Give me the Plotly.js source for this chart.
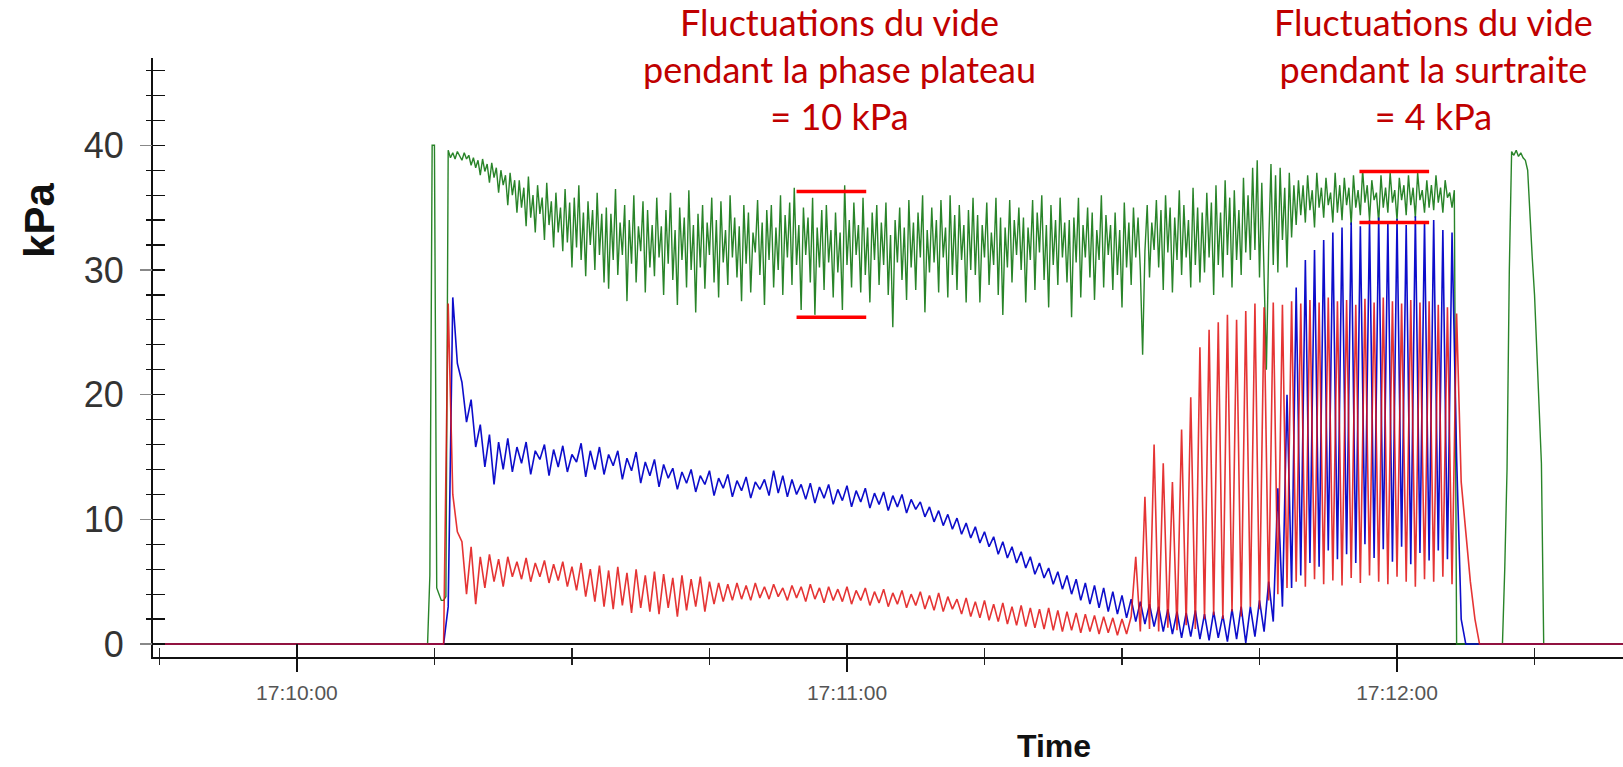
<!DOCTYPE html>
<html>
<head>
<meta charset="utf-8">
<script src="https://cdn.plot.ly/plotly-3.0.1.min.js"></script>
<style>html,body{margin:0;padding:0;background:#fff;}#chart{width:1623px;height:767px;}</style>
</head>
<body>
<div id="chart"></div>
<script>
// Time in seconds after 17:10:00. Recording window and sampling of the active part.
const recordStart = -16;
const recordEnd = 145;
const firstSample = 14.0;
const greenStep = 0.25;
const pulseStep = 0.5;

const timeTickSeconds = [0, 60, 120];
const timeTickLabels = ['17:10:00', '17:11:00', '17:12:00'];

// Green trace (kPa), one row = 5 s (20 samples), row start time in comment
const greenValues = [
/*14*/ 0, 0, 5.5, 40, 40, 4.5, 4, 3.5, 3.5, 3.8, 39.6, 39.0, 39.4, 38.9, 39.5, 39.1, 38.8, 39.4, 38.9, 39.2,
/*19*/ 38.4, 39.0, 38.2, 38.8, 37.6, 38.9, 37.9, 38.5, 37.0, 38.6, 37.4, 38.2, 36.2, 38.0, 36.8, 37.6, 35.2, 37.8, 36.0, 37.2,
/*24*/ 34.6, 37.2, 35.0, 36.6, 33.5, 37.5, 34.2, 36.0, 33.0, 36.8, 34.5, 35.8, 32.4, 37.0, 33.6, 35.5, 31.8, 36.2, 33.0, 35.0,
/*29*/ 31.5, 36.5, 32.2, 35.4, 30.2, 35.8, 31.8, 36.8, 30.8, 34.6, 29.5, 35.5, 32.0, 34.8, 30.0, 36.2, 31.2, 34.5, 29.0, 35.0,
/*34*/ 28.5, 34.5, 30.8, 36.5, 29.6, 33.8, 31.2, 35.2, 27.5, 34.0, 30.5, 36.0, 29.0, 33.5, 31.5, 35.5, 28.2, 34.8, 30.2, 33.6,
/*39*/ 29.5, 35.8, 31.0, 33.5, 28.0, 34.8, 30.5, 36.2, 29.2, 33.2, 27.2, 35.0, 30.8, 34.2, 28.6, 36.4, 30.0, 33.6, 26.6, 34.5,
/*44*/ 30.2, 35.2, 28.5, 33.8, 31.2, 35.8, 29.0, 34.0, 27.8, 35.5, 30.6, 33.2, 28.8, 36.0, 31.0, 34.2, 29.4, 33.5, 27.5, 35.2,
/*49*/ 30.5, 34.6, 28.2, 33.0, 31.4, 35.6, 29.6, 33.8, 27.2, 34.8, 30.8, 35.2, 28.6, 33.4, 30.0, 36.0, 28.0, 34.4, 31.0, 35.4,
/*54*/ 28.8, 36.6, 30.4, 33.6, 26.8, 35.0, 31.2, 34.2, 29.0, 35.8, 26.4, 33.4, 30.2, 34.8, 28.4, 35.2, 30.6, 33.2, 27.8, 34.6,
/*59*/ 29.8, 33.0, 26.8, 36.8, 30.4, 34.0, 28.6, 35.4, 31.2, 33.6, 28.2, 35.8, 29.6, 33.4, 27.4, 34.6, 30.8, 35.2, 28.8, 33.8,
/*64*/ 30.4, 35.4, 28.0, 32.8, 25.4, 34.0, 30.6, 35.0, 29.2, 33.4, 27.6, 35.6, 30.2, 33.8, 28.4, 34.6, 31.0, 36.0, 26.6, 33.2,
/*69*/ 29.8, 35.0, 30.6, 34.0, 28.2, 35.6, 31.0, 33.4, 27.8, 36.0, 29.6, 34.4, 28.4, 35.2, 30.8, 33.6, 27.4, 34.8, 30.0, 35.8,
/*74*/ 29.6, 34.4, 27.4, 33.6, 31.0, 35.4, 28.8, 33.0, 30.4, 35.8, 28.0, 34.2, 26.4, 33.4, 30.2, 35.6, 29.0, 34.0, 31.2, 35.0,
/*79*/ 30.0, 34.2, 27.4, 33.4, 30.8, 35.6, 28.4, 34.6, 31.4, 36.0, 29.2, 33.6, 27.0, 35.2, 30.4, 34.0, 28.8, 35.8, 31.0, 33.8,
/*84*/ 29.0, 34.0, 26.2, 34.2, 30.6, 35.8, 27.8, 33.6, 31.0, 35.0, 29.4, 34.6, 27.6, 33.2, 30.8, 36.0, 28.6, 34.4, 31.2, 33.6,
/*89*/ 28.4, 34.6, 29.6, 33.2, 27.0, 35.4, 30.2, 33.8, 28.8, 35.0, 31.0, 34.2, 30.0, 23.2, 31.5, 35.2, 29.4, 33.8, 31.6, 35.6,
/*94*/ 30.2, 34.8, 28.4, 36.0, 31.4, 35.0, 28.2, 34.2, 30.8, 36.4, 29.6, 35.2, 31.0, 34.0, 28.6, 36.6, 30.4, 35.0, 29.0, 34.6,
/*99*/ 29.8, 36.2, 31.0, 35.4, 28.0, 36.8, 30.4, 34.6, 29.4, 37.2, 31.2, 35.8, 28.6, 36.4, 30.8, 34.8, 29.6, 37.4, 31.4, 36.0,
/*104*/ 30.8, 38.2, 31.6, 38.8, 29.4, 37.0, 30.4, 22.0, 32.0, 38.5, 30.4, 37.6, 29.8, 38.2, 32.4, 36.6, 30.2, 37.8, 32.6, 36.8,
/*109*/ 33.6, 37.2, 34.4, 36.8, 33.8, 37.6, 34.8, 36.4, 33.4, 37.8, 35.0, 36.6, 34.2, 37.4, 35.2, 36.2, 33.8, 37.8, 34.6, 36.8,
/*114*/ 34.0, 37.4, 35.2, 36.6, 33.6, 37.6, 35.0, 36.4, 34.4, 38.0, 35.4, 36.8, 34.0, 37.2, 35.6, 36.2, 33.8, 37.6, 35.0, 36.6,
/*119*/ 34.6, 37.8, 35.4, 36.4, 34.0, 37.4, 35.6, 36.8, 34.4, 37.6, 35.2, 36.6, 34.2, 37.8, 35.6, 36.4, 34.6, 37.2, 35.0, 36.8,
/*124*/ 34.8, 37.6, 35.4, 36.6, 34.6, 37.2, 35.8, 36.2, 35.0, 36.4, 0, 0, 0, 0, 0, 0, 0, 0, 0, 0,
/*129*/ 0, 0, 0, 0, 0, 0, 0, 0, 0, 0, 0, 6.0, 14, 30, 39.5, 39.2, 39.6, 39.1, 39.4, 39.0,
/*134*/ 38.8, 38.0, 34.0, 31.0, 28.0, 23.5, 19.0, 14.5, 0, 0, 0, 0, 0
];

// Blue trace (kPa), one row = 5 s (10 samples)
const blueValues = [
/*14*/ 0, 0, 0, 0, 0, 3.0, 27.8, 22.5, 21.0, 17.8,
/*19*/ 19.6, 15.8, 17.6, 14.2, 16.8, 12.8, 16.2, 14.0, 16.5, 13.8,
/*24*/ 15.8, 14.5, 16.2, 13.6, 15.5, 14.8, 16.0, 13.5, 15.6, 14.2,
/*29*/ 15.9, 13.8, 15.2, 14.6, 16.1, 13.4, 15.5, 14.0, 15.8, 13.6,
/*34*/ 15.2, 14.3, 15.5, 13.2, 14.9, 13.9, 15.4, 12.9, 14.6, 13.5,
/*39*/ 14.8, 12.6, 14.4, 13.3, 14.1, 12.4, 13.8, 12.9, 14.0, 12.2,
/*44*/ 13.5, 12.8, 13.9, 11.9, 13.3, 12.5, 13.6, 11.8, 13.1, 12.3,
/*49*/ 13.4, 11.7, 13.0, 12.4, 13.2, 11.9, 13.9, 12.1, 13.5, 11.8,
/*54*/ 13.2, 12.0, 12.8, 11.6, 12.9, 11.3, 12.6, 11.7, 12.8, 11.2,
/*59*/ 12.4, 11.5, 12.7, 11.0, 12.3, 11.4, 12.5, 10.9, 12.1, 11.2,
/*64*/ 12.2, 10.7, 11.9, 11.0, 12.0, 10.5, 11.6, 10.8, 11.4, 10.2,
/*69*/ 11.0, 9.8, 10.7, 9.5, 10.4, 9.2, 10.1, 8.8, 9.7, 8.5,
/*74*/ 9.4, 8.1, 9.0, 7.8, 8.6, 7.2, 8.2, 6.9, 7.8, 6.5,
/*79*/ 7.4, 6.1, 7.0, 5.6, 6.5, 5.3, 6.1, 4.8, 5.8, 4.4,
/*84*/ 5.5, 4.0, 5.2, 3.5, 4.9, 3.2, 4.7, 2.9, 4.5, 2.6,
/*89*/ 4.2, 2.4, 3.9, 2.1, 3.6, 1.8, 3.4, 1.6, 3.2, 1.4,
/*94*/ 3.0, 1.0, 2.8, 0.8, 2.6, 0.5, 2.5, 0.6, 2.7, 0.4,
/*99*/ 2.4, 0.3, 2.6, 0.5, 2.3, 0.2, 2.8, 0.4, 3.0, 0.1,
/*104*/ 3.0, 0.6, 3.5, 1.0, 5.0, 1.8, 12.5, 3.0, 20.0, 4.5,
/*109*/ 28.6, 5.5, 30.8, 6.5, 31.6, 6.2, 32.4, 7.5, 33.0, 6.8,
/*114*/ 33.4, 7.2, 33.8, 6.5, 33.5, 8.0, 34.0, 6.9, 34.2, 7.6,
/*119*/ 33.8, 6.6, 34.1, 7.8, 33.6, 6.4, 34.3, 7.3, 33.9, 6.7,
/*124*/ 34.0, 7.5, 33.2, 6.8, 33.0, 15.0, 2.0, 0, 0, 0,
/*129*/ 0
];

// Red trace (kPa), one row = 5 s (10 samples)
const redValues = [
/*14*/ 0, 0, 0, 0, 0, 27.3, 12.0, 9.0, 8.2, 4.0,
/*19*/ 7.8, 3.2, 7.0, 4.5, 7.2, 5.0, 6.8, 4.6, 7.0, 5.4,
/*24*/ 6.6, 5.2, 6.9, 5.0, 6.5, 5.4, 6.7, 4.9, 6.4, 5.1,
/*29*/ 6.6, 4.6, 6.2, 4.3, 6.5, 3.8, 6.0, 3.4, 6.3, 3.0,
/*34*/ 5.9, 2.8, 6.2, 3.1, 5.7, 2.5, 6.0, 2.9, 5.5, 2.6,
/*39*/ 5.8, 2.4, 5.6, 2.9, 5.3, 2.2, 5.5, 2.7, 5.2, 3.0,
/*44*/ 5.4, 2.6, 5.0, 3.2, 4.9, 3.4, 4.8, 3.5, 4.9, 3.6,
/*49*/ 4.7, 3.5, 4.9, 3.7, 4.6, 3.6, 4.8, 3.8, 4.5, 3.5,
/*54*/ 4.7, 3.7, 4.6, 3.4, 4.8, 3.6, 4.5, 3.3, 4.6, 3.5,
/*59*/ 4.4, 3.4, 4.6, 3.2, 4.3, 3.5, 4.5, 3.1, 4.2, 3.3,
/*64*/ 4.4, 3.0, 4.1, 3.2, 4.3, 2.9, 4.0, 3.1, 4.2, 2.8,
/*69*/ 3.9, 2.7, 4.1, 2.6, 3.8, 2.8, 3.6, 2.4, 3.7, 2.2,
/*74*/ 3.4, 2.1, 3.5, 1.9, 3.2, 1.8, 3.3, 1.6, 3.0, 1.5,
/*79*/ 3.1, 1.4, 2.9, 1.3, 2.8, 1.2, 2.9, 1.1, 2.7, 1.0,
/*84*/ 2.6, 1.1, 2.5, 0.9, 2.4, 1.0, 2.3, 0.8, 2.2, 0.9,
/*89*/ 2.1, 0.7, 2.0, 0.8, 2.2, 7.0, 1.0, 11.8, 1.2, 16.0,
/*94*/ 1.0, 14.5, 1.3, 13.0, 1.1, 17.2, 1.5, 19.8, 1.2, 23.8,
/*99*/ 2.0, 25.2, 2.3, 25.8, 2.0, 26.4, 2.6, 26.0, 2.2, 26.7,
/*104*/ 3.0, 27.3, 2.8, 27.0, 3.5, 27.4, 4.0, 27.2, 4.5, 27.5,
/*109*/ 5.0, 27.3, 4.6, 27.6, 5.2, 27.4, 4.8, 27.8, 5.1, 27.5,
/*114*/ 4.7, 27.6, 5.3, 27.2, 4.9, 27.7, 5.5, 27.4, 5.0, 27.8,
/*119*/ 4.8, 27.5, 5.4, 27.3, 5.0, 27.6, 4.6, 27.4, 5.2, 27.5,
/*124*/ 5.0, 27.2, 5.4, 27.0, 4.8, 26.5, 13.0, 9.0, 5.0, 2.0,
/*129*/ 0
];

// Fluctuation markers (red bars): start/end time (s) and level (kPa)
const barStart = [54.5, 54.5, 115.9, 115.9];
const barEnd = [62.1, 62.1, 123.5, 123.5];
const barLevel = [36.3, 26.2, 37.9, 33.8];

const noteTimes = [59.2, 124.0];
const noteLevel = 46.1;
const noteTexts = [
  'Fluctuations du vide<br>pendant la phase plateau<br>= 10 kPa',
  'Fluctuations du vide<br>pendant la surtraite<br>= 4 kPa'
];

function buildSeries(values, step) {
  const x = [recordStart], y = [0];
  values.forEach((v, i) => { x.push(firstSample + i * step); y.push(v); });
  x.push(recordEnd); y.push(0);
  return {x, y};
}

const g = buildSeries(greenValues, greenStep);
const b = buildSeries(blueValues, pulseStep);
const r = buildSeries(redValues, pulseStep);

const traces = [
  {x: g.x, y: g.y, type: 'scatter', mode: 'lines', line: {color: '#1e7d1e', width: 1.4}, opacity: 0.95},
  {x: b.x, y: b.y, type: 'scatter', mode: 'lines', line: {color: '#0000c8', width: 1.6}, opacity: 0.95},
  {x: r.x, y: r.y, xaxis: 'x2', yaxis: 'y2', type: 'scatter', mode: 'lines', line: {color: '#e01010', width: 1.6}, opacity: 0.85}
];

const xRange = [-15.7, 144.65];
const yRange = [-1.04, 47];

const shapes = barStart.map((s, i) => ({
  type: 'line', xref: 'x', yref: 'y', x0: s, x1: barEnd[i], y0: barLevel[i], y1: barLevel[i],
  line: {color: '#ff0000', width: 3.5}
}));

const annotations = noteTexts.map((t, i) => ({
  xref: 'x', yref: 'y', x: noteTimes[i], y: noteLevel, text: t, showarrow: false,
  xanchor: 'center', yanchor: 'middle', align: 'center',
  font: {family: 'Lato, Carlito, Calibri, sans-serif', size: 36, color: '#c00000'}
}));
annotations.push({
  xref: 'paper', yref: 'paper', x: -0.0776, y: 0.7295, text: '<b>kPa</b>', textangle: -90,
  showarrow: false, xanchor: 'center', yanchor: 'middle',
  font: {family: 'Liberation Sans, Arial, sans-serif', size: 42, color: '#111'}
});
annotations.push({
  xref: 'paper', yref: 'paper', x: 0.613, y: -0.1486, text: '<b>Time</b>',
  showarrow: false, xanchor: 'center', yanchor: 'middle',
  font: {family: 'Liberation Sans Narrow, Arial Narrow, Liberation Sans, Arial, sans-serif', size: 32, color: '#111'}
});

const layout = {
  width: 1623, height: 767,
  margin: {l: 153, r: 0, t: 58, b: 110, pad: 0},
  paper_bgcolor: '#fff', plot_bgcolor: '#fff',
  showlegend: false,
  xaxis: {
    range: xRange, tickmode: 'array', tickvals: timeTickSeconds, ticktext: timeTickLabels,
    ticks: 'outside', ticklen: 13, tickwidth: 1.5, tickcolor: '#111',
    showline: true, linecolor: '#111', linewidth: 2, showgrid: false, zeroline: false,
    tickfont: {family: 'Liberation Sans Narrow, Arial Narrow, Liberation Sans, Arial, sans-serif', size: 21, color: '#555'},
    ticklabelstandoff: 3,
    minor: {tickmode: 'linear', tick0: 0, dtick: 15, ticks: 'outside', ticklen: 6, tickwidth: 1.2, tickcolor: '#222', showgrid: false}
  },
  xaxis2: {
    overlaying: 'x', anchor: 'y2', side: 'bottom', range: xRange,
    tickmode: 'array', tickvals: timeTickSeconds, showticklabels: false,
    ticks: 'inside', ticklen: 13, tickwidth: 1.5, tickcolor: '#111',
    showline: false, showgrid: false, zeroline: false,
    minor: {tickmode: 'linear', tick0: 0, dtick: 15, ticks: 'inside', ticklen: 9, tickwidth: 1.2, tickcolor: '#222', showgrid: false}
  },
  yaxis: {
    range: yRange, tickmode: 'linear', tick0: 0, dtick: 10,
    ticks: 'inside', ticklen: 12, tickwidth: 1.5, tickcolor: '#111',
    showline: true, linecolor: '#111', linewidth: 2, showgrid: false,
    zeroline: true, zerolinecolor: '#111', zerolinewidth: 2,
    tickfont: {family: 'Liberation Sans, Arial, sans-serif', size: 36, color: '#333'},
    ticklabelstandoff: 20,
    minor: {tickmode: 'linear', tick0: 0, dtick: 2, ticks: 'inside', ticklen: 12, tickwidth: 1.3, tickcolor: '#111', showgrid: false}
  },
  yaxis2: {
    overlaying: 'y', anchor: 'x2', side: 'left', range: yRange,
    tickmode: 'linear', tick0: 0, dtick: 10, showticklabels: false,
    ticks: 'outside', ticklen: 12, tickwidth: 1.3, tickcolor: '#888',
    showline: false, showgrid: false, zeroline: false,
    minor: {tickmode: 'linear', tick0: 0, dtick: 2, ticks: 'outside', ticklen: 6, tickwidth: 1.3, tickcolor: '#111', showgrid: false}
  },
  shapes: shapes,
  annotations: annotations
};

Plotly.newPlot('chart', traces, layout, {staticPlot: true, displayModeBar: false});
</script>
</body>
</html>
